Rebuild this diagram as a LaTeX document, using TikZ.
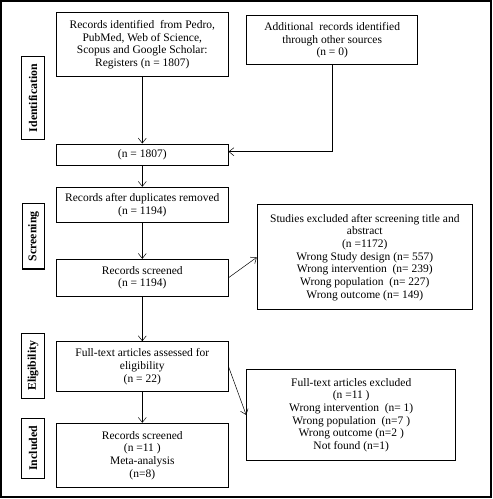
\documentclass[tikz,border=0pt]{standalone}
\usepackage{fontspec}
\setmainfont{Liberation Serif}
\usetikzlibrary{arrows.meta,calc,positioning}

\tikzset{
  box/.style={draw, line width=1pt, align=center, inner sep=0pt,
    font=\fontsize{11.5}{12.7}\selectfont},
  phase/.style={draw, line width=1.2pt, rotate=90, inner sep=0pt,
    font=\fontsize{11.8}{12}\selectfont\bfseries},
  flow/.style={->, line width=0.5pt}
}

\begin{document}
\begin{tikzpicture}[x=1pt,y=-1pt,>={Straight Barb[length=5pt,width=8pt]}]

  % frame
  \useasboundingbox (0,0) rectangle (493,499);
  \draw[line width=1.5pt] (1,1) rectangle (491,497);

  % Phase labels
  \node[phase, minimum width=82.6pt, minimum height=22.3pt] (ident) at (33,98) {Identification};
  \node[phase, minimum width=65.3pt, minimum height=21.6pt] (screen) at (33.5,236.3) {Screening};
  \node[phase, minimum width=65pt, minimum height=22.6pt] (elig) at (33,365.8) {Eligibility};
  \node[phase, minimum width=60pt, minimum height=22.6pt] (incl) at (33,448.3) {Included};

  % Identification
  \node[box, minimum width=171.5pt, minimum height=64pt] (found) at (142.3,44.7)
    {Records identified\ \ from Pedro,\\PubMed, Web of Science,\\Scopus and Google Scholar:\\Registers (n = 1807)};
  \node[box, minimum width=171pt, minimum height=49.3pt] (other) at (332.2,40.3)
    {Additional\ \ records identified\\through other sources\\(n = 0)};
  \node[box, minimum width=171.5pt, minimum height=21pt] (total) at (142.3,154.5) {(n = 1807)};

  % Screening
  \node[box, minimum width=171.5pt, minimum height=35.4pt] (dedup) at (142.3,205)
    {Records after duplicates removed\\(n = 1194)};
  \node[box, minimum width=171.5pt, minimum height=36.7pt] (screened) at (142.3,277.7)
    {Records screened\\(n = 1194)};
  \node[box, minimum width=215pt, minimum height=105.3pt] (excl) at (364.8,257.3)
    {Studies excluded after screening title\ and\\abstract\\(n =1172)\\Wrong Study design (n= 557)\\Wrong intervention\ \ (n= 239)\\Wrong population\ \ (n= 227)\\Wrong outcome (n= 149)};

  % Eligibility
  \node[box, minimum width=171.5pt, minimum height=50pt] (fulltext) at (142.3,366.7)
    {Full-text articles assessed for\\eligibility\\(n = 22)};
  \node[box, minimum width=209pt, minimum height=91.4pt] (ftexcl) at (351.2,415)
    {Full-text articles excluded\\(n =11 )\\Wrong intervention\ \ (n= 1)\\Wrong population\ \ (n=7 )\\Wrong outcome (n=2 )\\Not found (n=1)};

  % Included
  \node[box, minimum width=171.5pt, minimum height=64pt] (final) at (142.3,455.3)
    {Records screened\\(n =11 )\\Meta-analysis\\(n=8)};

  % connectors
  \coordinate (bend) at (other.south |- 0,151.7);
  \draw[flow] (found) -- (total);
  \draw[flow] (other.south) -- (bend) -- (bend -| total.east);
  \draw[flow] (total) -- (dedup);
  \draw[flow] (dedup) -- (screened);
  \draw[flow] (screened.east) -- (excl.west);
  \draw[flow] (screened) -- (fulltext);
  \draw[flow] (fulltext.east) -- (ftexcl.west);
  \draw[flow] (fulltext) -- (final);

\end{tikzpicture}
\end{document}
